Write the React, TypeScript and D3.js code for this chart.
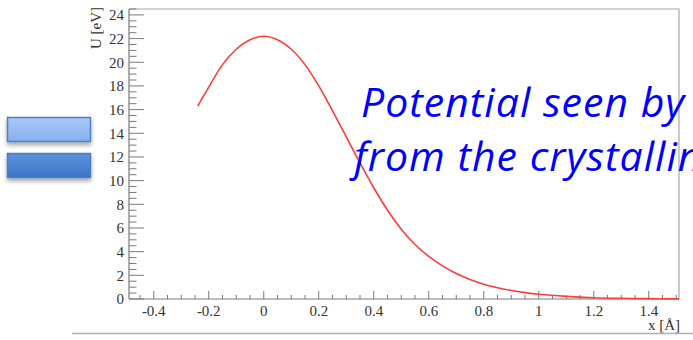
import React from 'react';
import * as d3 from 'd3';

// potential curve, x in Angstrom, U in eV
const xs = [-0.24, -0.2, -0.15, -0.1, -0.05, 0, 0.05, 0.1, 0.15, 0.2, 0.25, 0.3, 0.35, 0.4, 0.45, 0.5, 0.55, 0.6, 0.65, 0.7, 0.75, 0.8, 0.85, 0.9, 0.95, 1.0, 1.1, 1.2, 1.3, 1.4, 1.51];
const us = [16.3, 17.9, 19.8, 21.1, 21.9, 22.2, 21.9, 21.1, 19.8, 18.0, 15.9, 13.7, 11.5, 9.4, 7.5, 5.9, 4.6, 3.6, 2.8, 2.15, 1.65, 1.25, 0.95, 0.72, 0.54, 0.4, 0.22, 0.11, 0.06, 0.03, 0.01];

const xMajor = [-0.4, -0.2, 0, 0.2, 0.4, 0.6, 0.8, 1, 1.2, 1.4];
const yMajor = [0, 2, 4, 6, 8, 10, 12, 14, 16, 18, 20, 22, 24];
const textLines = ['Potential seen by', 'from the crystalline'];

const W = 693, H = 340;
const margin = {left: 129, right: 14, top: 9, bottom: 41};

export default function App() {
  const x = d3.scaleLinear().domain([-0.49, 1.51]).range([margin.left, W - margin.right]);
  const y = d3.scaleLinear().domain([0, 24.5]).range([H - margin.bottom, margin.top]);
  const x0 = margin.left, x1 = W - margin.right, y0 = H - margin.bottom, y1 = margin.top;

  const xMinor = d3.range(-0.45, 1.5001, 0.05).filter(v => !xMajor.some(m => Math.abs(m - v) < 1e-6));
  const yMinor = d3.range(0.5, 24.5001, 0.5).filter(v => !yMajor.some(m => Math.abs(m - v) < 1e-6));

  const pts: [number, number][] = xs.map((v, i) => [v, us[i]]);
  const line = d3.line<[number, number]>()
    .x(d => x(d[0]))
    .y(d => y(d[1]))
    .curve(d3.curveCatmullRom.alpha(0.5));

  const axisCol = '#7a7a7a';
  const serif = '"Liberation Serif", "Times New Roman", serif';

  return (
    <svg width={W} height={H} style={{position: 'absolute', left: 0, top: 0, background: '#fff'}}>
      <defs>
        <linearGradient id="g1" x1="0" y1="0" x2="0" y2="1">
          <stop offset="0" stopColor="#a9c9f8" />
          <stop offset="1" stopColor="#86b0ee" />
        </linearGradient>
        <linearGradient id="g2" x1="0" y1="0" x2="0" y2="1">
          <stop offset="0" stopColor="#5f93dc" />
          <stop offset="1" stopColor="#3a76c8" />
        </linearGradient>
        <filter id="sh" x="-20%" y="-30%" width="140%" height="190%">
          <feDropShadow dx="0" dy="3" stdDeviation="2" floodColor="#000" floodOpacity="0.35" />
        </filter>
      </defs>

      {/* buttons on the left */}
      <rect x={7.5} y={117.5} width={83} height={24} fill="url(#g1)" stroke="#4f81bd" strokeWidth={1.5} filter="url(#sh)" />
      <rect x={7.5} y={153.5} width={83} height={24} fill="url(#g2)" stroke="#4a7ebb" strokeWidth={1.5} filter="url(#sh)" />

      {/* frame */}
      <path d={`M${x0},${y1}H${x1}V${y0}`} fill="none" stroke="#a8a8a8" strokeWidth={1.2} />
      <line x1={x0} x2={x1} y1={y0} y2={y0} stroke={axisCol} strokeWidth={1.2} />
      <line x1={x0} x2={x0} y1={y0} y2={y1} stroke={axisCol} strokeWidth={1.2} />

      {/* x ticks */}
      {xMajor.map(v => (
        <g key={'xm' + v}>
          <line x1={x(v)} x2={x(v)} y1={y0} y2={y0 - 8} stroke={axisCol} />
          <text x={x(v)} y={316} textAnchor="middle" fontFamily={serif} fontSize={15} fill="#333">{v}</text>
        </g>
      ))}
      {xMinor.map(v => (
        <line key={'xn' + v} x1={x(v)} x2={x(v)} y1={y0} y2={y0 - 4} stroke={axisCol} />
      ))}

      {/* y ticks */}
      {yMajor.map(v => (
        <g key={'ym' + v}>
          <line x1={x0} x2={x0 + 15} y1={y(v)} y2={y(v)} stroke={axisCol} />
          <text x={124} y={y(v)} dy="0.35em" textAnchor="end" fontFamily={serif} fontSize={15} fill="#333">{v}</text>
        </g>
      ))}
      {yMinor.map(v => (
        <line key={'yn' + v} x1={x0} x2={x0 + 7.5} y1={y(v)} y2={y(v)} stroke={axisCol} />
      ))}

      {/* axis titles */}
      <text transform="translate(101,7) rotate(-90)" textAnchor="end" fontFamily={serif} fontSize={15} fill="#333">U [eV]</text>
      <text x={680} y={330} textAnchor="end" fontFamily={serif} fontSize={15} fill="#333">x [Å]</text>

      {/* curve */}
      <path d={line(pts) ?? ''} fill="none" stroke="#ff3b3b" strokeWidth={1.6} />

      {/* annotation, runs off the right edge like the slide it came from */}
      {textLines.map((t, i) => (
        <text key={t} x={i === 0 ? 361 : 354} y={117 + i * 54} fontFamily='"Open Sans", sans-serif' fontStyle="italic" fontWeight={500} fontSize={41} letterSpacing={1} fill="#0000ff" style={{fontVariantLigatures: 'none'}}>{t}</text>
      ))}

      {/* bottom rule */}
      <line x1={72} x2={W} y1={333.5} y2={333.5} stroke="#b0b0b0" strokeWidth={1.5} />
    </svg>
  );
}
